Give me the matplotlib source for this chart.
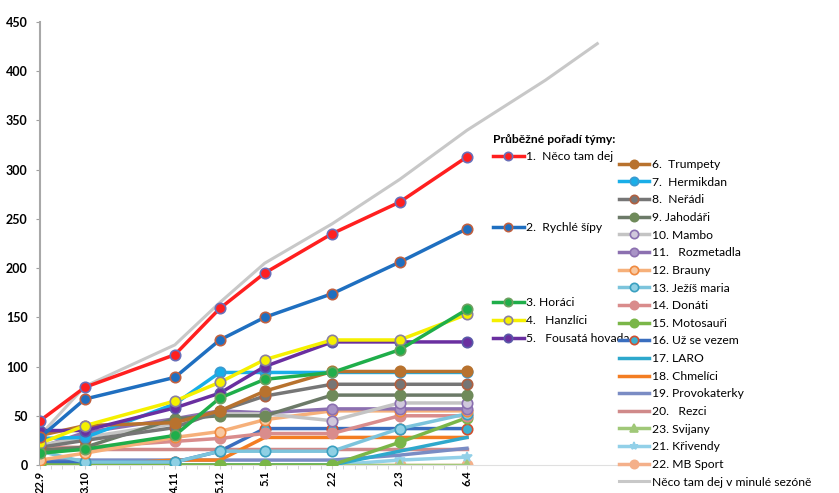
# coding: utf8

from matplotlib import pyplot as plt

plt.rcParams['font.family'] = ['Lato', 'DejaVu Sans']

# kola soutěže (pořadí kola) a jejich data
rounds = [0, 2, 6, 8, 10, 13, 16, 19]
dates = ["22.9", "3.10", "4.11", "5.12", "5.1", "2.2", "2.3", "6.4"]

# minulá sezóna
last_rounds = [0, 2, 6, 8, 10, 13, 16, 19, 22.5, 24.8]
last_season = [30, 80, 122, 165, 205, 245, 290, 340, 391, 428]

neco_tam_dej = [45, 79, 112, 159, 195, 235, 267, 313]
rychle_sipy = [28, 67, 89, 127, 150, 174, 206, 240]
horaci = [12, 16, 30, 68, 87, 94, 117, 158]
hanzlici = [22, 40, 65, 84, 107, 127, 127, 153]
fousata_hovada = [35, 35, 58, 73, 100, 125, 125, 125]
trumpety = [30, 40, 43, 55, 75, 95, 95, 95]
hermikdan = [27, 28, 62, 94, 94, 94, 94, 94]
neradi = [18, 25, 38, 55, 70, 82, 82, 82]
jahodari = [15, 18, 47, 50, 50, 71, 71, 71]
mambo = [20, 28, 42, 52, 52, 45, 63, 63]
rozmetadla = [18, 33, 47, 55, 53, 57, 57, 57]
brauny = [5, 12, 28, 34, 46, 55, 55, 55]
jezis_maria = [14, 3, 3, 14, 14, 14, 37, 52]
donati = [18, 18, 24, 27, 32, 32, 50, 50]
motosauri = [0, 0, 0, 0, 0, 0, 23, 48]
uz_se_vezem = [3, 3, 3, 14, 37, 37, 37, 37]
laro = [0, 0, 0, 0, 0, 0, 14, 28]
chmelici = [0, 0, 5, 5, 28, 28, 28, 28]
provokaterky = [5, 5, 5, 5, 5, 5, 10, 17]
rezci = [16, 16, 16, 16, 16, 16, 16, 16]
svijany = [0, 0, 0, 0, 0, 0, 0, 0]
krivendy = [0, 0, 0, 0, 0, 0, 5, 8]
mb_sport = [0, 0, 0, 0, 0, 0, 0, 0]

# (label, data, line color, marker, marker face, marker edge)
teams = [
    ("1.  Něco tam dej", neco_tam_dej, "#ff1f1f", "o", "#ff2020", "#6a6fb8"),
    ("2.  Rychlé šípy", rychle_sipy, "#1f6fc0", "o", "#1f6fc0", "#c06040"),
    ("3. Horáci", horaci, "#1fae4a", "o", "#1fae4a", "#6fa060"),
    ("4.   Hanzlíci", hanzlici, "#f5f000", "o", "#f5f000", "#8a7fa0"),
    ("5.   Fousatá hovada", fousata_hovada, "#6a2fa0", "o", "#6a2fa0", "#5a5aa8"),
    ("6.  Trumpety", trumpety, "#b8722e", "o", "#b8722e", "#b8722e"),
    ("7.  Hermikdan", hermikdan, "#19aee8", "o", "#19aee8", "#3a9ad0"),
    ("8.  Neřádi", neradi, "#767676", "o", "#767676", "#b06040"),
    ("9. Jahodáři", jahodari, "#6c7a68", "o", "#6f8a5a", "#6f8a5a"),
    ("10. Mambo", mambo, "#c4c4c4", "o", "#d0c8dc", "#8a70b0"),
    ("11.   Rozmetadla", rozmetadla, "#8c70b0", "o", "#a994c6", "#8c70b0"),
    ("12. Brauny", brauny, "#f6b07a", "o", "#f8c8a0", "#f08a40"),
    ("13. Ježíš maria", jezis_maria, "#7cc4dc", "o", "#8fd0e4", "#3aa0c0"),
    ("14. Donáti", donati, "#d98c8c", "o", "#d98c8c", "#d98c8c"),
    ("15. Motosauři", motosauri, "#7ab648", "o", "#7ab648", "#7ab648"),
    ("16. Už se vezem", uz_se_vezem, "#3a6ebf", "o", "#3ab0d0", "#d05030"),
    ("17. LARO", laro, "#2ea8cc", None, None, None),
    ("18. Chmelíci", chmelici, "#f37d22", None, None, None),
    ("19. Provokaterky", provokaterky, "#7a8cc4", None, None, None),
    ("20.   Rezci", rezci, "#d08a8a", None, None, None),
    ("23. Svijany", svijany, "#a0c878", "^", "#a0c878", "#a0c878"),
    ("21. Křivendy", krivendy, "#92d0e8", "*", "#92d0e8", "#92d0e8"),
    ("22. MB Sport", mb_sport, "#f4b08a", "o", "#f4b08a", "#f4b08a"),
]

fig = plt.figure(figsize=(8.39, 4.93), dpi=100)
ax = fig.add_axes([0.0477, 0.0568, 0.691, 0.8986])

gray_line, = ax.plot(last_rounds, last_season, color="#c8c8c8", lw=2.2, zorder=1,
                     label="Něco tam dej v minulé sezóně")

handles = []
# draw from the last team so the leaders end up on top
for i, (label, data, col, mk, mfc, mec) in reversed(list(enumerate(teams))):
    line, = ax.plot(rounds, data, color=col, lw=2.5, marker=mk, markersize=7.5,
                    markerfacecolor=mfc, markeredgecolor=mec, markeredgewidth=1.2,
                    label=label, zorder=2 + (len(teams) - i) * 0.1)
    handles.insert(0, line)

ax.set_xlim(0, 25.8)
ax.set_ylim(0, 450)
ax.set_yticks(range(0, 451, 50))
ax.set_yticklabels([str(v) for v in range(0, 451, 50)], fontweight="bold", fontsize=9)
ax.set_xticks(rounds)
ax.set_xticklabels(dates, rotation=90, fontweight="bold", fontsize=8)
ax.set_xticks([r * 0.5 for r in range(0, 39)], minor=True)
ax.tick_params(axis="x", which="both", length=3, color="#d0d0d0", pad=1)
ax.tick_params(axis="y", length=3, color="#a0a0a0", pad=6)

for s in ("top", "right"):
    ax.spines[s].set_visible(False)
ax.spines["bottom"].set_color("#e0e0e0")
ax.spines["left"].set_color("#a8a8a8")
ax.spines["left"].set_linewidth(1.5)

common = dict(frameon=False, fontsize=8.7, handlelength=2.5, handletextpad=0.2,
              borderpad=0, borderaxespad=0, markerscale=0.8)

leg1 = fig.legend(handles=[handles[0]], loc="upper left",
                  bbox_to_anchor=(0.588, 1 - 134 / 493),
                  title="Průběžné pořadí týmy:", alignment="left",
                  title_fontproperties={"weight": "bold", "size": 8.7}, **common)
leg2 = fig.legend(handles=[handles[1]], loc="upper left",
                  bbox_to_anchor=(0.588, 1 - 222 / 493), **common)
leg3 = fig.legend(handles=handles[2:5], loc="upper left",
                  bbox_to_anchor=(0.588, 1 - 297 / 493), labelspacing=0.6, **common)
leg4 = fig.legend(handles=handles[5:] + [gray_line], loc="upper left",
                  bbox_to_anchor=(0.738, 1 - 159 / 493), labelspacing=0.55, **common)

fig.savefig("out.png", dpi=100)
